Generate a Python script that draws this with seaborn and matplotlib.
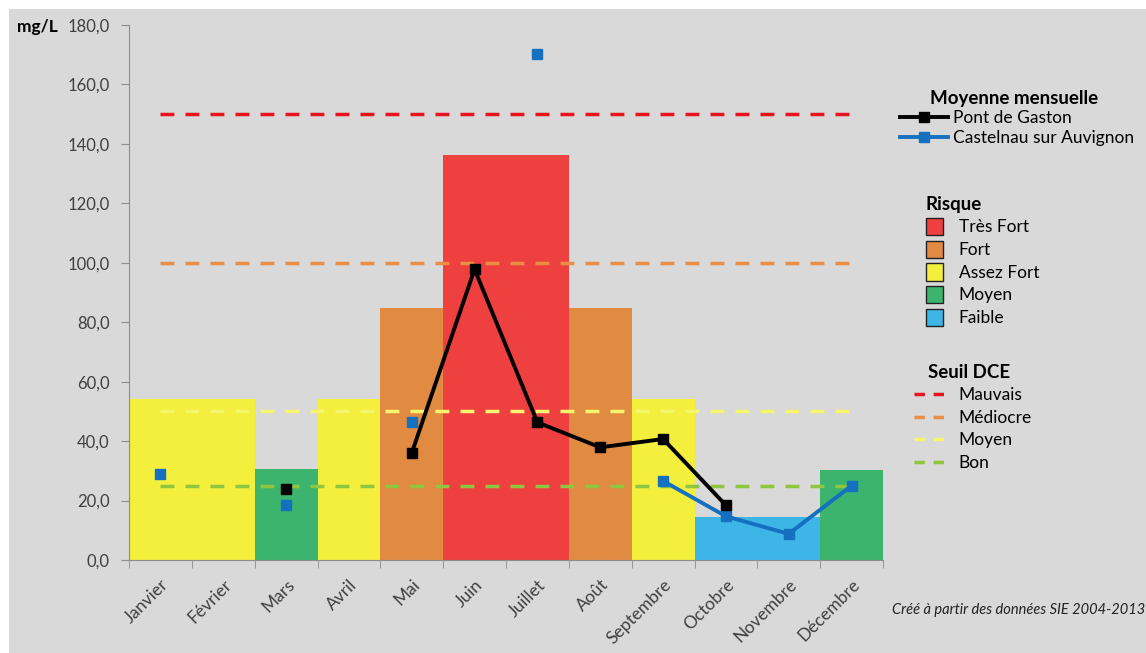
import numpy as np
import pandas as pd
import seaborn as sns
import matplotlib.pyplot as plt
from matplotlib.lines import Line2D
from matplotlib.patches import Patch, Rectangle
from matplotlib.ticker import FuncFormatter

plt.rcParams['font.family'] = ['Lato', 'DejaVu Sans']

# data
months = ['Janvier', 'Février', 'Mars', 'Avril', 'Mai', 'Juin', 'Juillet',
          'Août', 'Septembre', 'Octobre', 'Novembre', 'Décembre']
risk_level = ['Assez Fort', 'Assez Fort', 'Moyen', 'Assez Fort', 'Fort', 'Très Fort',
              'Très Fort', 'Fort', 'Assez Fort', 'Faible', 'Faible', 'Moyen']
risk_values = [54.3, 54.3, 30.5, 54.3, 84.9, 136.4, 136.4, 84.9, 54.3, 14.3, 14.3, 30.3]
pont_gaston = [np.nan, np.nan, 24.0, np.nan, 36.0, 97.8, 46.3, 37.9, 40.7, 18.4, np.nan, np.nan]
castelnau = [28.8, np.nan, 18.4, np.nan, 46.4, np.nan, 170.4, np.nan, 26.6, 14.7, 8.8, 25.0]
seuil_names = ['Mauvais', 'Médiocre', 'Moyen', 'Bon']
seuil_values = [150, 100, 50, 25]

risk_names = ['Très Fort', 'Fort', 'Assez Fort', 'Moyen', 'Faible']
risk_colors = {'Très Fort': '#ef4040', 'Fort': '#e08a42', 'Assez Fort': '#f3ef3c',
               'Moyen': '#3cb46e', 'Faible': '#3db5e6'}
seuil_colors = ['#e8141e', '#ea8d45', '#f6f56e', '#8ec63f']

df = pd.DataFrame({'mois': months, 'risque': risk_level, 'valeur': risk_values})

fig = plt.figure(figsize=(11.46, 6.53), dpi=100)
fig.patch.set_facecolor('white')
fig.add_artist(Rectangle((9 / 1146, 0), 1, 1 - 9 / 653, transform=fig.transFigure,
                         facecolor='#d9d9d9', edgecolor='none', zorder=-10))

ax = fig.add_axes([129 / 1146, 93 / 653, 754 / 1146, 535 / 653])
ax.set_facecolor('none')

sns.barplot(data=df, x='mois', y='valeur', hue='risque', palette=risk_colors,
            width=1.0, saturation=1, dodge=False, legend=False, ax=ax, zorder=1)

pos = np.arange(len(months))
for val, col in zip(seuil_values, seuil_colors):
    ax.hlines(val, pos[0], pos[-1], colors=col, linestyles=(0, (4, 3.2)), lw=2.5, zorder=2)

ax.plot(pos, pont_gaston, color='black', lw=2.8, marker='s', ms=7, zorder=4)
ax.plot(pos, castelnau, color='#1570c0', lw=2.8, marker='s', ms=7, zorder=3)

ax.set_xlim(-0.5, 11.5)
ax.set_ylim(0, 180)
ax.set_yticks(np.arange(0, 181, 20))
ax.yaxis.set_major_formatter(FuncFormatter(lambda v, p: f'{v:.1f}'.replace('.', ',')))
ax.set_xticks(pos)
ax.set_xticklabels(months, rotation=45, ha='right', rotation_mode='anchor')
ax.set_xticks(np.arange(-0.5, 12, 1), minor=True)
ax.tick_params(axis='x', which='major', length=0, pad=12, labelsize=12.5, colors='#404040')
ax.tick_params(axis='x', which='minor', length=6, color='#8c8c8c', direction='out')
ax.tick_params(axis='y', length=6, color='#8c8c8c', labelsize=12, labelcolor='#404040', pad=8)
ax.set_xlabel('')
ax.set_ylabel('')
for s in ['top', 'right']:
    ax.spines[s].set_visible(False)
for s in ['left', 'bottom']:
    ax.spines[s].set_color('#8c8c8c')

fig.text(17 / 1146, 1 - 27 / 653, 'mg/L', fontsize=12.5, fontweight='bold', va='center', ha='left')

# legends
title_font = {'weight': 'bold', 'size': 13.5}
h1 = [Line2D([0], [0], color='black', lw=2.8, marker='s', ms=7),
      Line2D([0], [0], color='#1570c0', lw=2.8, marker='s', ms=7)]
leg1 = fig.legend(h1, ['Pont de Gaston', 'Castelnau sur Auvignon'], title='Moyenne mensuelle',
                  loc='upper left', bbox_to_anchor=(891 / 1146, 1 - 81 / 653), frameon=False,
                  fontsize=12.5, handlelength=2.8, handletextpad=0.25, labelspacing=0.2,
                  borderpad=0, title_fontproperties=title_font)
leg1._legend_box.align = 'left'
leg1.get_title().set_position((30, 0))

h2 = [Patch(facecolor=risk_colors[r], edgecolor='#222222', lw=1) for r in risk_names]
leg2 = fig.legend(h2, risk_names, title='Risque', loc='upper left',
                  bbox_to_anchor=(917 / 1146, 1 - 187 / 653), frameon=False,
                  fontsize=12.5, handlelength=1.0, handleheight=1.15, handletextpad=0.9,
                  labelspacing=0.3, borderpad=0, title_fontproperties=title_font)
leg2._legend_box.align = 'left'

h3 = [Line2D([0], [0], color=c, lw=2.5, ls=(0, (3, 2.5))) for c in seuil_colors]
leg3 = fig.legend(h3, seuil_names, title='Seuil DCE', loc='upper left',
                  bbox_to_anchor=(905 / 1146, 1 - 355 / 653), frameon=False,
                  fontsize=12.5, handlelength=2.0, handletextpad=0.55, labelspacing=0.38,
                  borderpad=0, title_fontproperties=title_font)
leg3._legend_box.align = 'left'
leg3.get_title().set_position((14, 0))

fig.text(892 / 1146, 1 - 610 / 653, 'Créé à partir des données SIE 2004-2013',
         fontsize=10.5, style='italic', color='#222222', va='center', ha='left')

fig.savefig('out.png', dpi=100, facecolor=fig.get_facecolor())
